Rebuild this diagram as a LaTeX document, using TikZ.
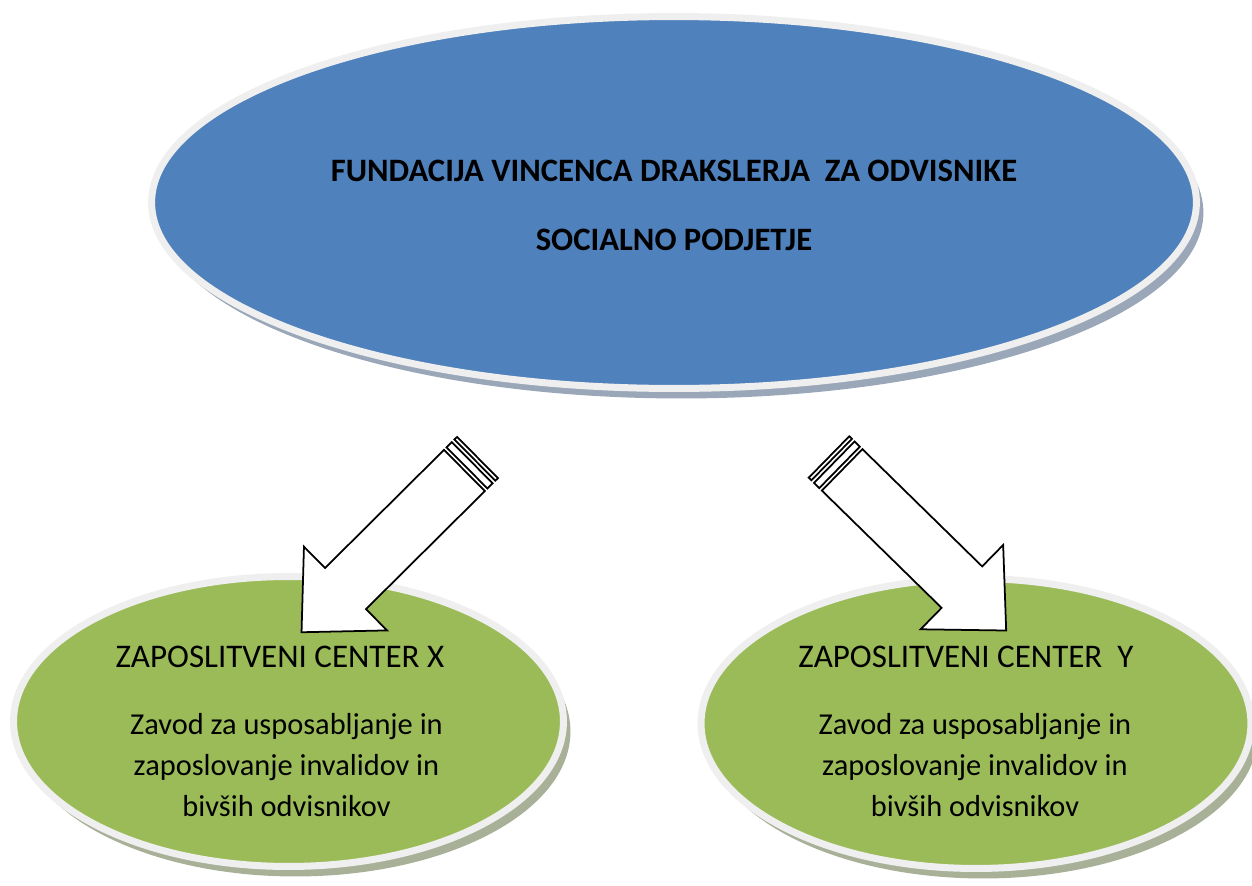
\documentclass[tikz,border=0pt]{standalone}
\usepackage{fontspec}
\setmainfont{Carlito}
\usetikzlibrary{shapes.geometric,shadows,positioning}
\definecolor{fundblue}{HTML}{4F81BD}
\definecolor{centergreen}{HTML}{9BBB59}
\definecolor{rimgrey}{HTML}{EFEFEF}
\definecolor{blueshadow}{HTML}{9AA7B9}
\definecolor{greenshadow}{HTML}{A8B198}
\tikzset{
every picture/.style={
line width=1pt
},
bubble/.style={
  ellipse,
  draw=rimgrey,
  line width=0.14cm,
  inner sep=0pt,
  drop shadow={shadow xshift=0.14cm, shadow yshift=-0.2cm, opacity=1, fill=#1}
},
titletext/.style={font=\bfseries\fontsize{18.6}{22}\selectfont},
centername/.style={font=\fontsize{18.8}{23}\selectfont},
centertext/.style={font=\fontsize{17.3}{23.3}\selectfont, align=center},
stripearrow/.pic={
  \draw[fill=white] (0,-29) rectangle (3.7,29);
  \draw[fill=white] (7.4,-29) rectangle (14.8,29);
  \draw[fill=white] (18.4,-29) -- (186,-29) -- (186,-59) -- (248,0)
    -- (186,59) -- (186,29) -- (18.4,29) -- cycle;
  }
}
\begin{document}
\begin{tikzpicture}[x=0.02cm, y=-0.02cm]
\useasboundingbox (0,0) rectangle (1252,886);

\node [bubble=blueshadow, fill=fundblue, minimum width=20.9cm, minimum height=7.44cm] (fund) at (674,202.5) {};
\node [bubble=greenshadow, fill=centergreen, minimum width=11cm, minimum height=5.8cm] (cx) at (288.5,721.5) {};
\node [bubble=greenshadow, fill=centergreen, minimum width=11cm, minimum height=5.8cm] (cy) at (976,723.5) {};

\node [titletext] (fundname) at (674,171) {FUNDACIJA VINCENCA DRAKSLERJA \ ZA ODVISNIKE};
\node [titletext] (fundtype) at (674,240) {SOCIALNO PODJETJE};

\node [centername] (cxname) at (280,657) {ZAPOSLITVENI CENTER X};
\node [centertext] (cxtext) at (286.5,765) {Zavod za usposabljanje in\\zaposlovanje invalidov in\\bivših odvisnikov};
\node [centername] (cyname) at (966,657) {ZAPOSLITVENI CENTER \ Y};
\node [centertext] (cytext) at (975,765) {Zavod za usposabljanje in\\zaposlovanje invalidov in\\bivših odvisnikov};

\coordinate (tailx) at (477.5,457.5);
\coordinate (taily) at (829,457);
\pic [rotate=224.8] at (tailx) {stripearrow};
\pic [rotate=-44.4] at (taily) {stripearrow};

\end{tikzpicture}
\end{document}
